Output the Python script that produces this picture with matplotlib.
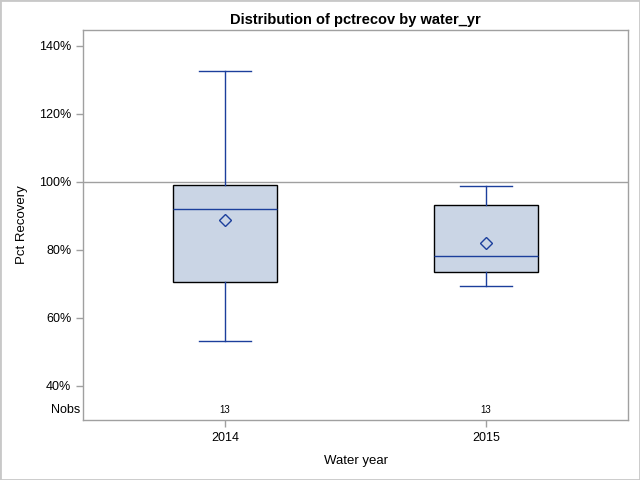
import matplotlib
matplotlib.use("Agg")
import matplotlib.pyplot as plt
from matplotlib.patches import Rectangle
from matplotlib.transforms import blended_transform_factory

plt.rcParams['font.family'] = ['Liberation Sans', 'DejaVu Sans']

categories = ["2014", "2015"]
q1 = [70.7, 73.4]
median = [92.1, 78.3]
q3 = [99.2, 93.3]
whislo = [53.1, 69.4]
whishi = [132.6, 98.7]
means = [88.9, 82.2]
nobs = [13, 13]
yticks = [40, 60, 80, 100, 120, 140]

line_col = '#1C3F9C'
fill_col = '#CAD5E5'

fig = plt.figure(figsize=(6.4, 4.8), dpi=100)
ax = fig.add_axes([83/640, 60/480, 545/640, 390/480])

stats = []
for i, c in enumerate(categories):
    stats.append(dict(label=c, q1=q1[i], med=median[i], q3=q3[i],
                      whislo=whislo[i], whishi=whishi[i], mean=means[i], fliers=[]))

ax.axhline(100, color='#A0A0A0', lw=1, zorder=1)
ax.bxp(stats, positions=range(len(categories)), widths=0.40, patch_artist=True,
       showmeans=True, showfliers=False,
       boxprops=dict(facecolor=fill_col, edgecolor='black', lw=1),
       medianprops=dict(color=line_col, lw=1),
       whiskerprops=dict(color=line_col, lw=1),
       capprops=dict(color=line_col, lw=1),
       capwidths=0.2,
       meanprops=dict(marker='D', markerfacecolor='none', markeredgecolor=line_col,
                      markersize=6.5, markeredgewidth=1.0),
       zorder=2)

ax.set_xlim(-0.545, 1.545)
ax.set_ylim(30, 144.7)
ax.set_yticks(yticks)
ax.set_yticklabels([f"{v}%" for v in yticks])
ax.set_xticks(range(len(categories)))
ax.set_xticklabels(categories)

for s in ax.spines.values():
    s.set_color('#A0A0A0')
    s.set_linewidth(1)
ax.tick_params(axis='both', colors='#A0A0A0', labelcolor='black', labelsize=9,
               length=5, width=1)

tr = blended_transform_factory(ax.transData, ax.transAxes)
for i, n in enumerate(nobs):
    ax.text(i, 10/390, str(n), transform=tr, ha='center', va='center', fontsize=7)
ax.text(-0.005, 10/390, "Nobs", transform=ax.transAxes, ha='right', va='center', fontsize=9)

ax.set_title("Distribution of pctrecov by water_yr", fontsize=10.5, fontweight='bold', pad=4)
ax.set_xlabel("Water year", fontsize=9.5, labelpad=8)
ax.set_ylabel("Pct Recovery", fontsize=9.5, labelpad=8)

fig.patches.append(Rectangle((0, 0), 1, 1, transform=fig.transFigure, fill=False,
                             edgecolor='#C8C8C8', lw=2))

fig.savefig("out.png", dpi=100)
